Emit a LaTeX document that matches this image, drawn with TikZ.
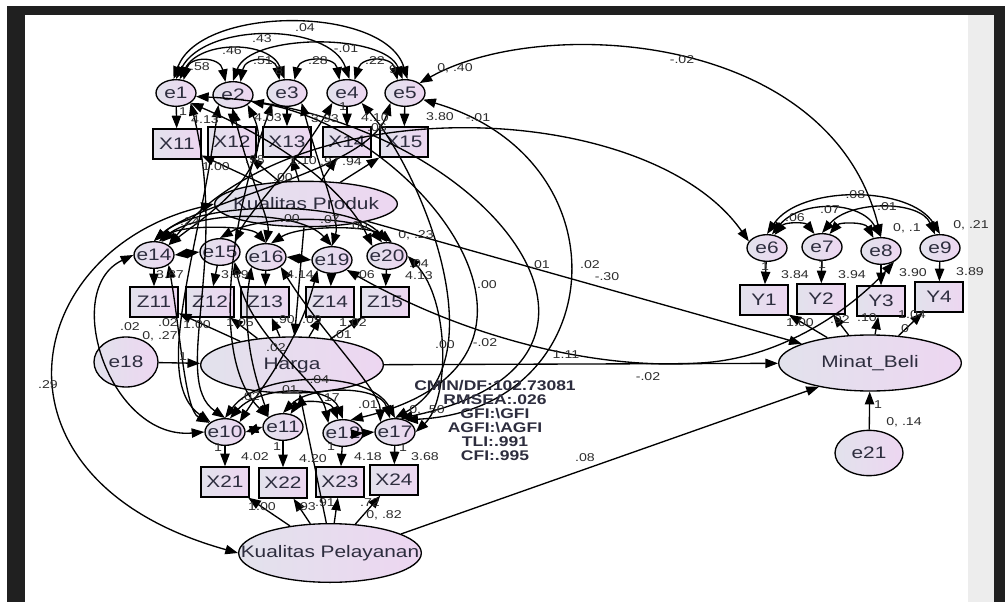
\documentclass[tikz,border=0pt]{standalone}
\usepackage{fontspec}
\setmainfont[FakeStretch=1.25]{Liberation Sans}
\usetikzlibrary{arrows.meta,shapes.geometric}

\definecolor{fillL}{RGB}{226,226,236}
\definecolor{fillR}{RGB}{237,214,241}
\definecolor{inkText}{RGB}{45,45,62}
\definecolor{numText}{RGB}{45,45,45}
\definecolor{frameDark}{RGB}{32,32,32}
\definecolor{stripGrey}{RGB}{237,237,237}

\newcommand{\varfont}{\fontsize{12.5}{14}\selectfont}
\newcommand{\numfont}{\fontsize{8.5}{9}\selectfont}
\newcommand{\statfont}{\fontsize{10.5}{10.5}\selectfont\bfseries}

\begin{document}
\begin{tikzpicture}[
  x=0.75pt, y=-0.75pt,
  lat/.style={draw, ellipse, line width=1pt, left color=fillL, right color=fillR, inner xsep=-20pt, inner ysep=0pt, minimum width=137pt, minimum height=42pt, font=\varfont, text=inkText},
  obs/.style={draw, rectangle, line width=1pt, left color=fillL, right color=fillR, inner sep=0pt, minimum width=36pt, minimum height=22.5pt, font=\varfont, text=inkText},
  err/.style={draw, ellipse, line width=1pt, left color=fillL, right color=fillR, inner xsep=-3pt, inner ysep=0pt, minimum width=30pt, minimum height=20pt, font=\varfont, text=inkText},
  arr/.style={-{Triangle[length=9.5pt,width=7pt]}, line width=1pt},
  cov/.style={{Triangle[length=9.5pt,width=7pt]}-{Triangle[length=9.5pt,width=7pt]}, line width=1pt},
  num/.style={font=\numfont, text=numText, inner sep=0pt},
  stats/.style={font=\statfont, text=inkText, align=center, inner sep=0pt}
]
% screen frame
\useasboundingbox[fill=white] (0,0) rectangle (1005,602);
\fill[frameDark] (7,6) rectangle (1005,15);
\fill[frameDark] (7,6) rectangle (25,602);
\fill[stripGrey] (968,15) rectangle (994,602);
\fill[frameDark] (994,6) rectangle (1005,602);

% Kualitas Produk block
\node[err] (e1) at (176,93) {e1};
\node[err] (e2) at (233,95) {e2};
\node[err] (e3) at (287,93) {e3};
\node[err] (e4) at (347,93) {e4};
\node[err] (e5) at (405,93) {e5};
\node[obs] (X11) at (177,144) {X11};
\node[obs] (X12) at (232,142) {X12};
\node[obs] (X13) at (287,142) {X13};
\node[obs] (X14) at (347,142) {X14};
\node[obs] (X15) at (404,142) {X15};
\node[lat, minimum height=34pt] (KP) at (306,204) {Kualitas Produk};

% Harga block
\node[err] (e14) at (154,255) {e14};
\node[err] (e15) at (220,252) {e15};
\node[err] (e16) at (266,257) {e16};
\node[err] (e19) at (332,260) {e19};
\node[err] (e20) at (387,256) {e20};
\node[obs] (Z11) at (154,302) {Z11};
\node[obs] (Z12) at (210,302) {Z12};
\node[obs] (Z13) at (265,302) {Z13};
\node[obs] (Z14) at (330,302) {Z14};
\node[obs] (Z15) at (385,302) {Z15};
\node[err, minimum width=48pt, minimum height=37.5pt] (e18) at (126,362) {e18};
\node[lat] (Harga) at (292,365) {Harga};

% Kualitas Pelayanan block
\node[err] (e10) at (225,432) {e10};
\node[err] (e11) at (283,427) {e11};
\node[err] (e12) at (343,433) {e12};
\node[err] (e17) at (395,432) {e17};
\node[obs] (X21) at (225,482) {X21};
\node[obs] (X22) at (283,483) {X22};
\node[obs] (X23) at (340,482) {X23};
\node[obs] (X24) at (394,480) {X24};
\node[lat, minimum height=44pt] (KPel) at (330,553) {Kualitas Pelayanan};

% Minat Beli block
\node[err] (e6) at (767,248) {e6};
\node[err] (e7) at (822,247) {e7};
\node[err] (e8) at (881,251) {e8};
\node[err] (e9) at (940,248) {e9};
\node[obs] (Y1) at (764,300) {Y1};
\node[obs] (Y2) at (821,299) {Y2};
\node[obs] (Y3) at (881,301) {Y3};
\node[obs] (Y4) at (939,297) {Y4};
\node[lat] (MB) at (870,363) {Minat\_Beli};
\node[err, minimum width=51pt, minimum height=34pt] (e21) at (869,453) {e21};

% errors to indicators
\draw[arr] (e1) -- (X11);
\draw[arr] (e2) -- (X12);
\draw[arr] (e3) -- (X13);
\draw[arr] (e4) -- (X14);
\draw[arr] (e5) -- (X15);
\draw[arr] (e14) -- (Z11);
\draw[arr] (e15) -- (Z12);
\draw[arr] (e16) -- (Z13);
\draw[arr] (e19) -- (Z14);
\draw[arr] (e20) -- (Z15);
\draw[arr] (e10) -- (X21);
\draw[arr] (e11) -- (X22);
\draw[arr] (e12) -- (X23);
\draw[arr] (e17) -- (X24);
\draw[arr] (e6) -- (Y1);
\draw[arr] (e7) -- (Y2);
\draw[arr] (e8) -- (Y3);
\draw[arr] (e9) -- (Y4);

% loadings
\draw[arr] (KP) -- (X11);
\draw[arr] (KP) -- (X12);
\draw[arr] (KP) -- (X13);
\draw[arr] (KP) -- (X14);
\draw[arr] (KP) -- (X15);
\draw[arr] (Harga) -- (Z11);
\draw[arr] (Harga) -- (Z12);
\draw[arr] (Harga) -- (Z13);
\draw[arr] (Harga) -- (Z14);
\draw[arr] (Harga) -- (Z15);
\draw[arr] (KPel) -- (X21);
\draw[arr] (KPel) -- (X22);
\draw[arr] (KPel) -- (X23);
\draw[arr] (KPel) -- (X24);
\draw[arr] (MB) -- (Y1);
\draw[arr] (MB) -- (Y2);
\draw[arr] (MB) -- (Y3);
\draw[arr] (MB) -- (Y4);

% structural paths
\draw[arr] (e18) -- (Harga);
\draw[arr] (e21) -- (MB);
\draw[arr] (KP.265) -- (Harga.85);
\draw[arr] (KPel.97) -- (Harga.-75);
\draw[arr] (KP) -- (MB);
\draw[arr] (Harga) -- (MB);
\draw[arr] (KPel.15) -- (MB.205);
\draw[cov] (KP.west) .. controls (20,250) and (-25,480) .. (KPel.west);

% covariances, top row
\draw[cov] (e1.100) .. controls (200,5) and (385,5) .. (e5.80);
\draw[cov] (e1.90) .. controls (205,22) and (330,22) .. (e4.80);
\draw[cov] (e1.75) .. controls (200,40) and (270,40) .. (e3.100);
\draw[cov] (e2.90) .. controls (250,33) and (385,33) .. (e5.100);
\draw[cov] (e1.60) .. controls (190,56) and (220,56) .. (e2.120);
\draw[cov] (e2.60) .. controls (245,56) and (275,56) .. (e3.120);
\draw[cov] (e3.60) .. controls (300,56) and (335,56) .. (e4.120);
\draw[cov] (e4.60) .. controls (362,56) and (392,56) .. (e5.120);

% covariances, middle row
\draw[cov] (e14.north) .. controls (200,200) and (350,200) .. (e20.north);
\draw[cov] (e14.70) .. controls (200,210) and (300,210) .. (e19.north);
\draw[cov] (e15.north) .. controls (260,215) and (360,215) .. (e20.110);
\draw[cov] (e14.60) .. controls (180,225) and (250,225) .. (e16.north);
\draw[cov] (e16.70) .. controls (300,225) and (370,225) .. (e20.70);
\draw[cov] (e14.east) -- (e15.west);
\draw[cov] (e16.east) -- (e19.west);

% covariances, bottom row
\draw[cov] (e10.north) .. controls (260,370) and (370,370) .. (e17.north);
\draw[cov] (e10.70) .. controls (260,385) and (330,385) .. (e12.north);
\draw[cov] (e11.north) .. controls (310,385) and (380,385) .. (e17.110);
\draw[cov] (e11.60) .. controls (300,400) and (330,400) .. (e12.110);
\draw[cov] (e10.east) -- (e11.west);
\draw[cov] (e12.east) -- (e17.west);

% covariances, Minat Beli row
\draw[cov] (e6.north) .. controls (800,185) and (910,185) .. (e9.north);
\draw[cov] (e6.70) .. controls (800,200) and (860,200) .. (e8.north);
\draw[cov] (e7.north) .. controls (850,200) and (920,200) .. (e9.110);
\draw[cov] (e6.60) .. controls (785,222) and (805,222) .. (e7.120);
\draw[cov] (e7.60) .. controls (840,222) and (865,222) .. (e8.120);

% covariances across blocks
\draw[cov] (e2.south east) .. controls (280,170) and (200,220) .. (e14.north east);
\draw[cov] (e1.south east) .. controls (300,150) and (350,200) .. (e20.north west);
\draw[cov] (e3.south east) .. controls (320,170) and (340,220) .. (e19.north);
\draw[cov] (e4.south west) .. controls (300,160) and (250,210) .. (e15.north east);
\draw[cov] (e2.south) .. controls (250,180) and (270,220) .. (e16.north);
\draw[cov] (e5.south west) .. controls (370,170) and (200,200) .. (e14.north);
\draw[cov] (e14.west) .. controls (60,290) and (110,440) .. (e10.west);
\draw[cov] (e2.south west) .. controls (200,250) and (150,380) .. (e10.north west);
\draw[cov] (e1.south east) .. controls (230,260) and (170,380) .. (e10.north);
\draw[cov] (e14.south east) .. controls (180,330) and (185,410) .. (e10.150);
\draw[cov] (e3.south west) .. controls (230,220) and (210,360) .. (e11.north west);
\draw[cov] (e16.south east) .. controls (320,330) and (380,390) .. (e17.north west);
\draw[cov] (e19.south west) .. controls (300,340) and (260,390) .. (e10.north east);
\draw[cov] (e20.east) .. controls (450,300) and (450,400) .. (e17.east);
\draw[cov] (e15.south east) .. controls (250,340) and (320,380) .. (e12.north west);
\draw[cov] (e16.south west) .. controls (240,340) and (260,390) .. (e11.north west);
\draw[cov] (e5.-20) .. controls (630,160) and (610,410) .. (e17.50);
\draw[cov] (e1.-10) .. controls (480,110) and (680,360) .. (e17.70);
\draw[cov] (e2.-20) .. controls (420,130) and (600,360) .. (e12.60);
\draw[cov] (e4.south east) .. controls (420,170) and (500,360) .. (e17.north);
\draw[cov] (e5.north east) .. controls (540,15) and (830,30) .. (e8.north);
\draw[cov] (e14.north east) .. controls (300,85) and (650,100) .. (e6.160);
\draw[cov] (e19.south east) .. controls (470,340) and (600,370) .. (700,363) .. controls (790,358) and (860,300) .. (e8.-40);

% estimates
\node[num] (cE1E5) at (305,28) {.04};
\node[num] (cE1E4) at (262,39) {.43};
\node[num] (cE1E3) at (232,51) {.46};
\node[num] (cE2E5) at (346,49) {-.01};
\node[num] (cE1E2) at (200,67) {.58};
\node[num] (cE2E3) at (263,61) {.51};
\node[num] (cE3E4) at (318,61) {.28};
\node[num] (cE4E5) at (375,61) {.22};
\node[num] (cE2x) at (279,71) {8};
\node[num] (cE4x) at (393,70) {9};
\node[num] (vE5) at (455,68) {0, .40};
\node[num] (cE5E8) at (682,60) {-.02};
\node[num] (fE1) at (183,112) {1};
\node[num] (fE4) at (343,107) {1};
\node[num] (iX11) at (205,120) {4.13};
\node[num] (iX12) at (268,118) {4.03};
\node[num] (iX13) at (325,119) {3.93};
\node[num] (iX14) at (375,118) {4.10};
\node[num] (iX15) at (440,117) {3.80};
\node[num] (cX1a) at (377,128) {.06};
\node[num] (cE6) at (478,118) {-.01};
\node[num] (wX11) at (216,167) {1.00};
\node[num] (wX12) at (255,160) {.98};
\node[num] (wX13) at (303,161) {1.10};
\node[num] (wX14) at (330,162) {.97};
\node[num] (wX15) at (352,162) {.94};
\node[num] (cKPa) at (283,178) {.00};
\node[num] (cZa) at (190,222) {.24};
\node[num] (cZb) at (290,219) {.00};
\node[num] (cZc) at (330,220) {.07};
\node[num] (cZd) at (358,226) {.00};
\node[num] (vE20) at (416,235) {0, .23};
\node[num] (cZe) at (419,264) {.04};
\node[num] (iZ11) at (170,275) {3.87};
\node[num] (iZ12) at (235,275) {3.89};
\node[num] (iZ13) at (300,275) {4.14};
\node[num] (cZf) at (365,275) {.06};
\node[num] (iZ15) at (419,276) {4.13};
\node[num] (cZg) at (168,323) {.02};
\node[num] (wZ11) at (197,325) {1.00};
\node[num] (wZ12) at (240,323) {1.05};
\node[num] (wZ13) at (285,320) {.90};
\node[num] (wZ14) at (312,320) {.09};
\node[num] (wZ15) at (353,323) {1.02};
\node[num] (cZh) at (342,335) {.01};
\node[num] (cE18) at (130,327) {.02};
\node[num] (vE18) at (160,336) {0, .27};
\node[num] (bKPH) at (276,348) {.02};
\node[num] (fE18) at (183,357) {1};
\node[num] (cRa) at (487,285) {.00};
\node[num] (cRb) at (540,265) {.01};
\node[num] (cRc) at (590,265) {.02};
\node[num] (bKPMB) at (607,277) {-.30};
\node[num] (cRd) at (445,345) {.00};
\node[num] (cRe) at (485,343) {-.02};
\node[num] (cE8) at (566,355) {1.11};
\node[num] (bHMB) at (648,377) {-.02};
\node[num] (bKPelMB) at (585,458) {.08};
\node[num] (cKPKPel) at (48,385) {.29};
\node[num] (bKPelH) at (317,380) {-.04};
\node[num] (cXa) at (288,390) {.01};
\node[num] (cXb) at (250,397) {.02};
\node[num] (cXc) at (330,398) {.17};
\node[num] (cXd) at (368,405) {.01};
\node[num] (vE17) at (427,410) {0, .50};
\node[num] (fE10) at (218,448) {1};
\node[num] (fE11) at (277,447) {1};
\node[num] (fE12) at (331,447) {1};
\node[num] (fE17) at (403,448) {1};
\node[num] (iX21) at (255,457) {4.02};
\node[num] (iX22) at (313,459) {4.20};
\node[num] (iX23) at (368,457) {4.18};
\node[num] (iX24) at (425,457) {3.68};
\node[num] (wX21) at (262,507) {1.00};
\node[num] (wX22) at (306,507) {.93};
\node[num] (wX23) at (325,503) {.91};
\node[num] (wX24) at (370,503) {.72};
\node[num] (vKPel) at (384,515) {0, .82};
\node[num] (cYa) at (853,195) {-.08};
\node[num] (cYb) at (830,210) {.07};
\node[num] (cYc) at (887,207) {.01};
\node[num] (cYd) at (795,218) {.06};
\node[num] (vE8) at (907,228) {0, .1};
\node[num] (vE9) at (971,225) {0, .21};
\node[num] (fE6) at (765,267) {1};
\node[num] (fE7) at (822,265) {1};
\node[num] (iY1) at (795,275) {3.84};
\node[num] (iY2) at (852,275) {3.94};
\node[num] (iY3) at (913,273) {3.90};
\node[num] (iY4) at (970,272) {3.89};
\node[num] (wY1) at (800,323) {1.00};
\node[num] (wY2) at (840,320) {.92};
\node[num] (wY3) at (867,318) {.10};
\node[num] (wY4) at (912,315) {1.04};
\node[num] (iMB) at (905,329) {0};
\node[num] (fE21) at (878,405) {1};
\node[num] (vE21) at (904,422) {0, .14};

% fit indices
\node[stats] (fitIdx) at (495,420) {CMIN/DF:102.73081\\RMSEA:.026\\GFI:\textbackslash GFI\\AGFI:\textbackslash AGFI\\TLI:.991\\CFI:.995};
\end{tikzpicture}
\end{document}
